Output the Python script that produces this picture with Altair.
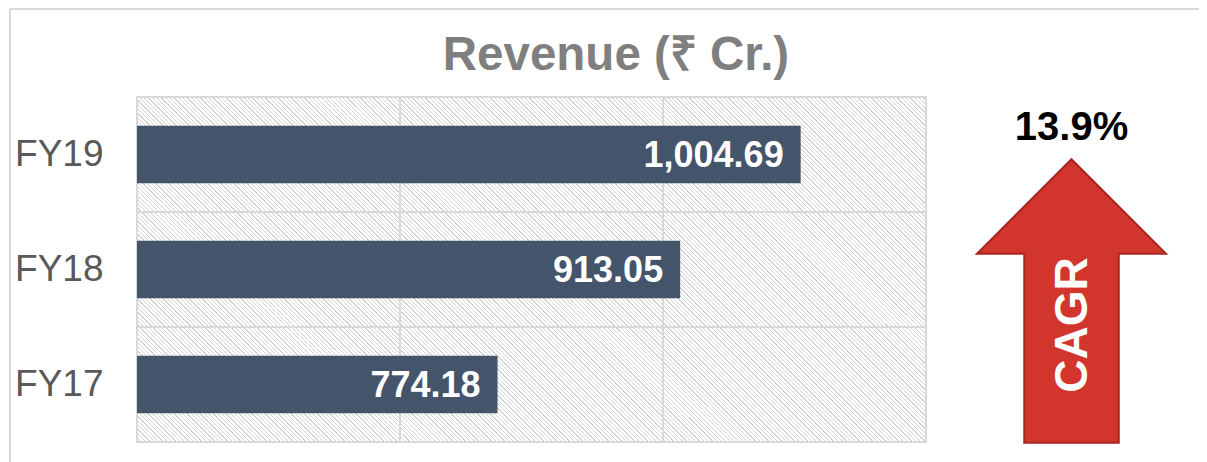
import altair as alt
import pandas as pd

years = ["FY17", "FY18", "FY19"]
revenue = [774.18, 913.05, 1004.69]
x_domain = [500, 1100]
grid_values = [700, 900]
title_text = ["Revenue (₹ Cr.)"]
cagr_value = ["13.9%"]
cagr_label = ["CAGR"]

df = pd.DataFrame({"year": years, "revenue": revenue})
order = ["FY19", "FY18", "FY17"]

W, H = 789, 345
GRID = "#d9d9d9"

# diagonal hatch for the plot background, built as a striped linear gradient
n_stripes = 262
stops = []
for i in range(n_stripes):
    a = i / n_stripes
    b = (i + 0.3) / n_stripes
    c = (i + 1) / n_stripes
    stops += [
        alt.GradientStop(offset=a, color="#d4d4d4"),
        alt.GradientStop(offset=b, color="#d4d4d4"),
        alt.GradientStop(offset=b, color="#ffffff"),
        alt.GradientStop(offset=c, color="#ffffff"),
    ]
hatch = alt.LinearGradient(
    gradient="linear", stops=stops, x1=0, y1=1, x2=1.2066, y2=0.4723
)

one = pd.DataFrame({"k": [0]})
xscale = alt.Scale(domain=x_domain, zero=False, nice=False)

background = alt.Chart(one).mark_rect(
    fill=hatch, stroke=GRID, strokeWidth=2
).encode(x=alt.value(0), x2=alt.value(W), y=alt.value(0), y2=alt.value(H))

y_enc = alt.Y(
    "year:N",
    sort=order,
    scale=alt.Scale(paddingInner=0, paddingOuter=0),
    axis=alt.Axis(
        title=None, ticks=False, domain=False, grid=False,
        labelFontSize=37, labelColor="#595959", labelFont="Liberation Sans",
        labelPadding=34,
    ),
)

vgrid = alt.Chart(pd.DataFrame({"v": grid_values})).mark_rule(
    color=GRID, strokeWidth=2
).encode(x=alt.X("v:Q", scale=xscale, axis=None))

hgrid = alt.Chart(df).transform_filter(alt.datum.year != "FY19").mark_rule(
    color=GRID, strokeWidth=2
).encode(y=alt.Y("year:N", sort=order, bandPosition=0))

bars = alt.Chart(df).mark_bar(
    color="#44546A", height={"band": 0.5}, clip=True
).encode(
    x=alt.X("revenue:Q", scale=xscale, axis=None),
    x2=alt.datum(x_domain[0]),
    y=y_enc,
)

labels = alt.Chart(df).mark_text(
    align="right", baseline="middle", dx=-17, dy=1, color="white",
    fontSize=36, fontWeight="bold", font="Liberation Sans",
).encode(
    x=alt.X("revenue:Q"),
    y=alt.Y("year:N", sort=order),
    text=alt.Text("revenue:Q", format=",.2f"),
)

title = alt.Chart(pd.DataFrame({"t": title_text})).mark_text(
    align="center", baseline="alphabetic", fontSize=47.5, fontWeight="bold",
    color="#7f7f7f", font="Liberation Sans",
).encode(x=alt.value(479), y=alt.value(-27), text="t:N")

arrow = alt.Chart(one).mark_point(
    shape="M0,-1.5 L1,-0.5 L0.5,-0.5 L0.5,1.5 L-0.5,1.5 L-0.5,-0.5 L-1,-0.5 Z",
    filled=True, fill="#D2352B", stroke="#A8261F", strokeWidth=2, opacity=1,
    size=189 * 189,
).encode(x=alt.value(934.5), y=alt.value(204))

pct = alt.Chart(pd.DataFrame({"t": cagr_value})).mark_text(
    align="center", baseline="middle", fontSize=40, fontWeight="bold",
    color="black", font="Liberation Sans",
).encode(x=alt.value(934.5), y=alt.value(31), text="t:N")

cagr = alt.Chart(pd.DataFrame({"t": cagr_label})).mark_text(
    align="center", baseline="middle", fontSize=46, fontWeight="bold",
    color="white", angle=270, font="Liberation Sans",
).encode(x=alt.value(936), y=alt.value(228), text="t:N")

frame_top = alt.Chart(one).mark_rule(color=GRID, strokeWidth=2).encode(
    x=alt.value(-127), x2=alt.value(W + 300), y=alt.value(-88)
)
frame_left = alt.Chart(one).mark_rule(color=GRID, strokeWidth=2).encode(
    x=alt.value(-127), y=alt.value(-88), y2=alt.value(H + 40)
)

chart = alt.layer(
    frame_top, frame_left, background, vgrid, hgrid, bars, labels,
    title, arrow, pct, cagr
).properties(
    width=W,
    height=H,
    autosize=alt.AutoSizeParams(type="none"),
    padding={"left": 129, "top": 89, "right": 273, "bottom": 20},
).configure_view(stroke=None).configure(background="white")

chart.save("out.html", embed_options={"renderer": "svg", "actions": False})
